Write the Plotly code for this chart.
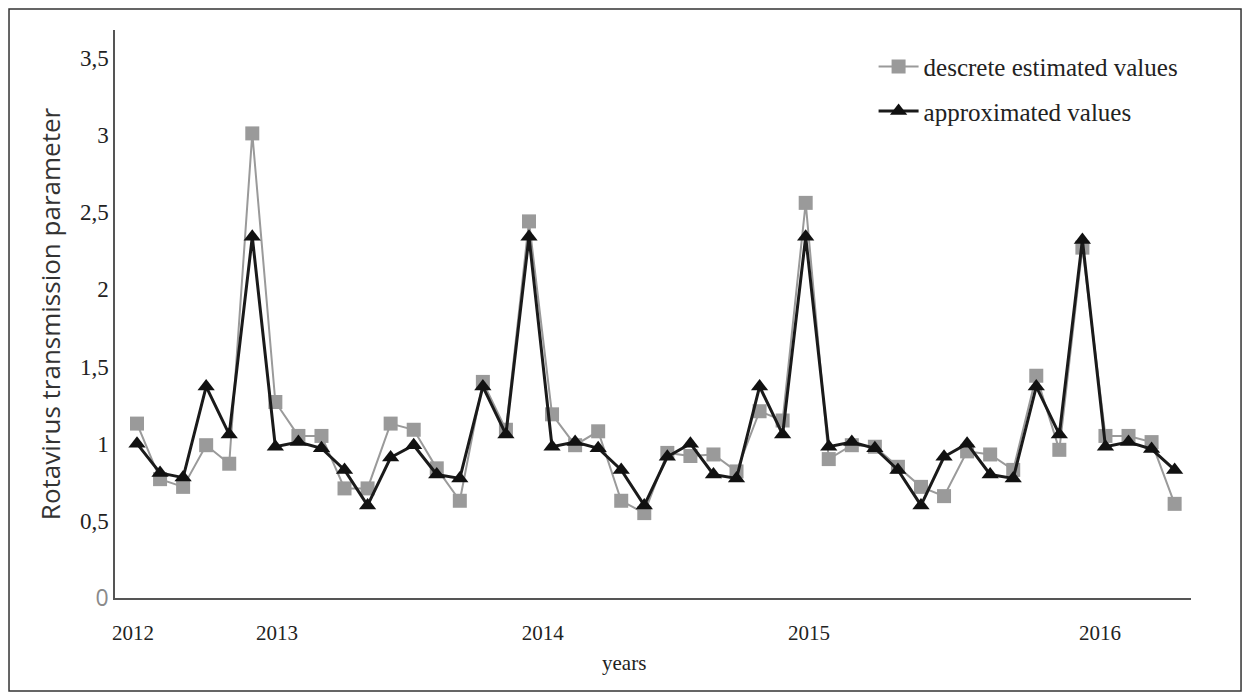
import plotly.graph_objects as go

months = list(range(46))

descrete = [1.13, 0.77, 0.72, 0.99, 0.87, 3.01, 1.27, 1.05, 1.05, 0.71, 0.71, 1.13,
            1.09, 0.84, 0.63, 1.40, 1.09, 2.44, 1.19, 0.99, 1.08, 0.63, 0.55, 0.94,
            0.92, 0.93, 0.82, 1.21, 1.15, 2.56, 0.90, 0.99, 0.98, 0.85, 0.72, 0.66,
            0.95, 0.93, 0.83, 1.44, 0.96, 2.27, 1.05, 1.05, 1.01, 0.61]

approx = [1.00, 0.81, 0.78, 1.37, 1.06, 2.34, 0.98, 1.01, 0.97, 0.83, 0.60, 0.91,
          0.99, 0.80, 0.775, 1.37, 1.06, 2.34, 0.98, 1.01, 0.97, 0.83, 0.60, 0.915,
          1.00, 0.80, 0.775, 1.37, 1.06, 2.34, 0.98, 1.01, 0.97, 0.83, 0.60, 0.915,
          1.00, 0.80, 0.775, 1.37, 1.06, 2.32, 0.98, 1.01, 0.965, 0.83]

year_pos = [-0.17, 6.07, 17.6, 29.14, 41.76]
year_labels = ["2012", "2013", "2014", "2015", "2016"]

y_ticks = [0, 0.5, 1, 1.5, 2, 2.5, 3, 3.5]
y_labels = ["<span style='color:#8a8a8a;font-family:Open Sans'>0</span>",
            "0,5", "1", "1,5", "2", "2,5", "3", "3,5"]

fig = go.Figure()
fig.add_trace(go.Scatter(
    x=months, y=descrete, mode="lines+markers", name="descrete estimated values",
    line=dict(color="#9a9a9a", width=2),
    marker=dict(symbol="square", size=14, color="#9a9a9a"),
    legendgroup="a"))
fig.add_trace(go.Scatter(
    x=months, y=approx, mode="lines+markers", name="approximated values",
    line=dict(color="#1a1a1a", width=3),
    marker=dict(symbol="triangle-up", size=15, color="#111111"),
    legendgroup="b"))

fig.update_layout(
    width=1242, height=692,
    margin=dict(l=107, r=59, t=22, b=102),
    paper_bgcolor="white", plot_bgcolor="white",
    font=dict(family="Liberation Serif", size=20, color="#222222"),
    showlegend=True,
    legend=dict(x=0.705, y=0.976, xanchor="left", yanchor="top", itemwidth=40,
                bgcolor="rgba(0,0,0,0)", font=dict(size=25, family="Liberation Serif", color="#222222"),
                tracegroupgap=9, traceorder="grouped"),
    xaxis=dict(range=[-0.954, 45.71], tickvals=year_pos, ticktext=year_labels,
               showgrid=False, zeroline=False, showline=True, linecolor="#555555",
               linewidth=2, ticks="", ticklen=0, ticklabelstandoff=15,
               tickfont=dict(family="Liberation Serif", size=21, color="#222222")),
    yaxis=dict(range=[0, 3.68], tickvals=y_ticks, ticktext=y_labels,
               showgrid=False, zeroline=False, showline=True, linecolor="#555555",
               linewidth=1.5, ticks="", ticklen=0,
               tickfont=dict(family="Liberation Serif", size=23, color="#222222"),
               title=dict(text="Rotavirus transmission parameter",
                          font=dict(family="Open Sans", size=26, color="#333333"),
                          standoff=12)),
    annotations=[dict(text="years", xref="paper", yref="paper",
                      x=0.473, y=-0.1144, xanchor="center", yanchor="middle",
                      showarrow=False,
                      font=dict(family="Liberation Serif", size=21, color="#222222"))],
    shapes=[dict(type="rect", xref="paper", yref="paper",
                 x0=-0.0985, x1=1.0465, y0=-0.1637, y1=1.037,
                 line=dict(color="#333333", width=1.5), fillcolor="rgba(0,0,0,0)")],
)

fig.write_html("out.html")
